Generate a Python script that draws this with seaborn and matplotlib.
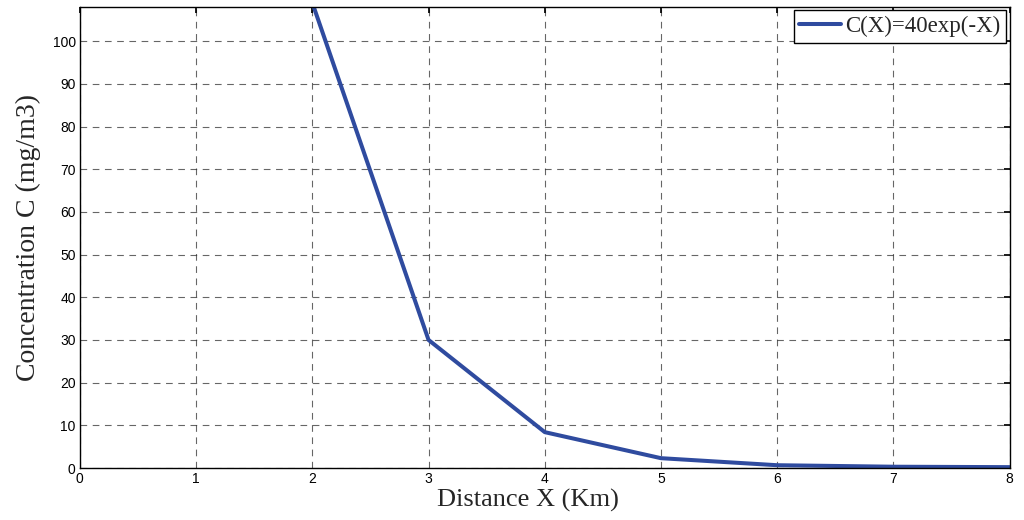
import numpy as np
import pandas as pd
import matplotlib
matplotlib.use("Agg")
import matplotlib.pyplot as plt
import seaborn as sns

# values
distance_km = [2, 3, 4, 5, 6, 7, 8]
concentration = [109, 30, 8.4, 2.3, 0.65, 0.3, 0.2]
series_label = "C(X)=40exp(-X)"
x_ticks = list(range(0, 9))
y_ticks = list(range(0, 101, 10))

df = pd.DataFrame({"x": distance_km, "c": concentration, "s": series_label})

sns.set_theme(style="white")
plt.rcParams["font.family"] = ["Liberation Sans", "DejaVu Sans"]

fig = plt.figure(figsize=(10.24, 5.2), dpi=100)
ax = fig.add_axes([0.078, 0.1, 0.908, 0.8865])

sns.lineplot(data=df, x="x", y="c", hue="s", palette=["#2f4b9f"],
             linewidth=2.9, ax=ax)

ax.set_xlim(0, 8)
ax.set_ylim(0, 108)
ax.set_xticks(x_ticks)
ax.set_yticks(y_ticks)
ax.tick_params(direction="in", labelsize=10, length=4, color="black",
               top=True, right=True, labelcolor="black", pad=3)
ax.grid(True, linestyle=(0, (6, 5)), color="#333333", linewidth=0.8, alpha=0.75)
for s in ax.spines.values():
    s.set_color("black")
    s.set_linewidth(1.0)

serif = ["Liberation Serif", "DejaVu Serif"]
ax.set_xlabel("Distance X (Km)", fontsize=19, family=serif)
ax.xaxis.set_label_coords(0.482, -0.045, transform=ax.transAxes)
ax.xaxis.label.set_va("top")
ax.set_ylabel("Concentration C (mg/m3)", fontsize=20, family=serif, labelpad=8)

leg = ax.legend(loc="upper right", prop={"family": serif, "size": 16.5},
                fancybox=False, framealpha=1, edgecolor="black",
                borderaxespad=0.15, handlelength=1.8, handletextpad=0.2,
                borderpad=0.25)
leg.get_frame().set_linewidth(1.0)

fig.savefig("out.png", dpi=100)
